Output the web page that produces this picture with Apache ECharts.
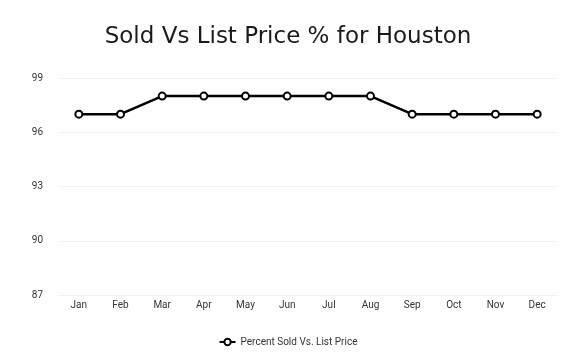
<!DOCTYPE html>
<html><head><meta charset="utf-8">
<script src="https://cdn.jsdelivr.net/npm/echarts@6/dist/echarts.min.js"></script>
<style>html,body{margin:0;padding:0;background:#fff}#c{width:576px;height:357px}</style>
</head><body><div id="c"></div>
<script>
const categories = ['Jan','Feb','Mar','Apr','May','Jun','Jul','Aug','Sep','Oct','Nov','Dec'];
const values = [97,97,98,98,98,98,98,98,97,97,97,97];
const seriesName = 'Percent Sold Vs. List Price';
const titleText = 'Sold Vs List Price % for Houston';
const yMin = 87, yMax = 99, yStep = 3;

const chart = echarts.init(document.getElementById('c'));
chart.setOption({
  animation: false,
  backgroundColor: '#fff',
  title: {
    text: titleText, left: 'center', top: 21,
    textStyle: { fontFamily: 'DejaVu Sans', fontWeight: 'normal', fontSize: 23, color: '#1a1a1a' }
  },
  legend: {
    bottom: 5, left: 'center', itemWidth: 16, itemHeight: 8,
    textStyle: { fontFamily: 'Roboto', fontSize: 10, color: '#333' },
    data: [seriesName]
  },
  grid: { left: 58, right: 18, top: 78, bottom: 62 },
  xAxis: {
    type: 'category', data: categories, boundaryGap: true,
    axisLine: { show: false }, axisTick: { show: false },
    axisLabel: { fontFamily: 'Roboto', fontSize: 10, color: '#333', margin: 5 }
  },
  yAxis: {
    type: 'value', min: yMin, max: yMax, interval: yStep,
    axisLine: { show: false }, axisTick: { show: false },
    axisLabel: { fontFamily: 'Roboto', fontSize: 10, color: '#333', margin: 15, padding: [0, 0, 2, 0] },
    splitLine: { lineStyle: { color: '#f2f2f2', width: 1 } }
  },
  series: [{
    name: seriesName, type: 'line', data: values,
    symbol: 'circle', symbolSize: 7,
    lineStyle: { color: '#000', width: 2.5 },
    itemStyle: { color: '#fff', borderColor: '#000', borderWidth: 2 }
  }]
});
</script></body></html>
